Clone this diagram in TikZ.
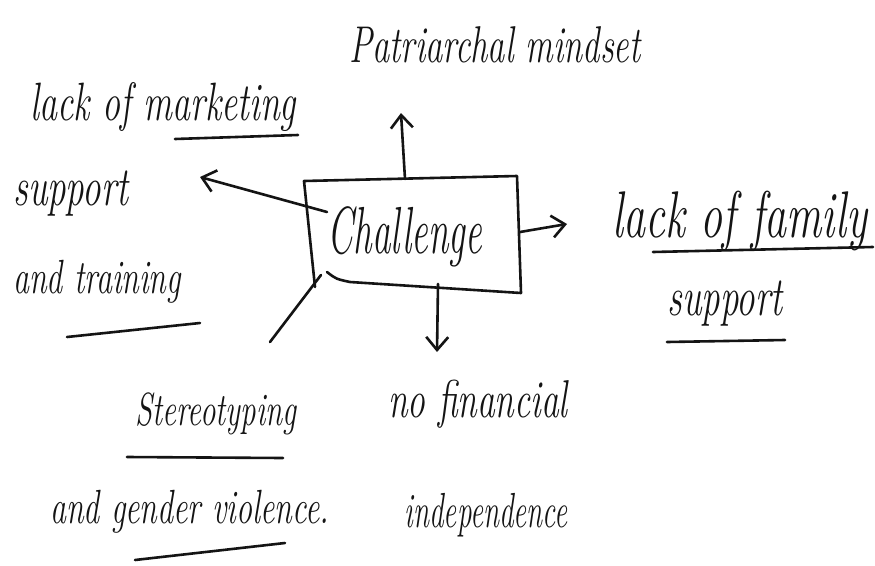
\documentclass[tikz,border=0pt]{standalone}
\usepackage{graphicx}
\usetikzlibrary{arrows.meta}
\definecolor{inkc}{HTML}{141414}
% handwritten-looking labels are taller than they are wide
\newcommand\hwtext[2][1.5]{\scalebox{1}[#1]{#2}}
\begin{document}
\begin{tikzpicture}[x=1pt,y=-1pt,
  ink/.style={line width=2.6pt, line cap=round, line join=round, draw=inkc},
  arr/.style={ink, -{Straight Barb[length=13pt,width=22pt,line width=2.6pt]}},
  lbl/.style={font=\fontsize{#1}{#1}\selectfont\itshape, text=inkc, inner sep=0pt, anchor=base},
  lbl/.default=34,
]
\useasboundingbox[fill=white] (0,0) rectangle (875,565);

% central box, drawn by hand-placed corners
\coordinate (tl) at (304,181);
\coordinate (tr) at (517,176);
\coordinate (br) at (521,293);
\coordinate (bl) at (315,287);
\draw[ink] (bl) -- (tl) -- (tr) -- (br) -- (350,282) .. controls (336,279) .. (327,272);
\node[lbl=37] (ch) at (405,253) {\hwtext[1.8]{Challenge}};

% labels
\node[lbl=34.5] (pm) at (495,62) {\hwtext{Patriarchal mindset}};
\node[lbl=36, anchor=base west] (mk1) at (30,120) {\hwtext{lack of marketing}};
\node[lbl=37, anchor=base west] (mk2) at (13,205) {\hwtext{support}};
\node[lbl=32, anchor=base west] (mk3) at (13,293) {\hwtext{and training}};
\node[lbl=44] (fa1) at (740,237) {\hwtext{lack of family}};
\node[lbl=37] (fa2) at (725,315) {\hwtext{support}};
\node[lbl=31] (st1) at (216,425) {\hwtext{Stereotyping}};
\node[lbl=32, anchor=base west] (st2) at (50,523) {\hwtext{and gender violence.}};
\node[lbl=35.5] (fi1) at (478,417) {\hwtext{no financial}};
\node[lbl=29] (fi2) at (486,527) {\hwtext[1.7]{independence}};

% underlines
\draw[ink] (175,139) -- (298,135);
\draw[ink] (67,337) -- (200,323);
\draw[ink] (653,252) -- (873,247);
\draw[ink] (667,342) -- (785,340);
\draw[ink] (127,457) -- (283,458);
\draw[ink] (135,560) -- (285,543);

% connector ends on the box
\coordinate (upS) at (405,179);
\coordinate (upT) at (401,113);
\coordinate (lfS) at (327,212);
\coordinate (lfT) at (200,177);
\coordinate (rtS) at (520,232);
\coordinate (rtT) at (567,224);
\coordinate (dnS) at (438,284);
\coordinate (dnT) at (437,352);
\coordinate (dgS) at (321,275);
\coordinate (dgT) at (270,342);

\draw[arr] (upS) -- (upT);
\draw[arr] (lfS) -- (lfT);
\draw[arr] (rtS) -- (rtT);
\draw[arr] (dnS) -- (dnT);
\draw[ink] (dgS) -- (dgT);
\end{tikzpicture}
\end{document}
